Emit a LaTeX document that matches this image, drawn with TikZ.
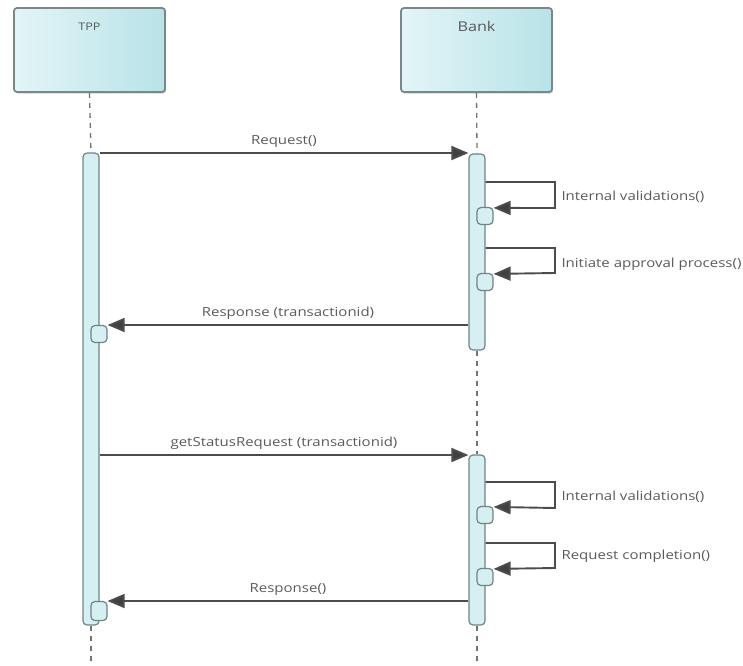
\documentclass[tikz,border=0pt]{standalone}
\usepackage{fontspec}
\setmainfont{Open Sans}
\newfontfamily\widefont[FakeStretch=1.2]{Open Sans}
\usetikzlibrary{arrows.meta,shadows}
\definecolor{boxleft}{HTML}{E3F5F7}
\definecolor{boxright}{HTML}{B8E3E8}
\definecolor{boxedge}{HTML}{7A8888}
\definecolor{barfill}{HTML}{D6EFF1}
\definecolor{baredge}{HTML}{6E8587}
\definecolor{msgcol}{HTML}{4C4C4C}
\definecolor{txtcol}{HTML}{5A5A5A}
\tikzset{
  actor/.style={draw=boxedge, line width=1.8pt, rounded corners=3pt,
    left color=boxleft, right color=boxright,
    minimum width=151pt, minimum height=84pt, inner sep=0pt,
    drop shadow={shadow xshift=1.2pt, shadow yshift=-1.5pt, opacity=0.35}},
  actname/.style={font=\widefont\fontsize{10.5}{12}\selectfont, text=txtcol},
  lifebar/.style={draw=baredge, line width=1.2pt, fill=barfill,
    rounded corners=4pt, minimum width=16pt, inner sep=0pt},
  retbox/.style={draw=baredge, line width=1.2pt, fill=barfill,
    rounded corners=4pt, minimum width=16pt, minimum height=17pt, inner sep=0pt},
  lifeline/.style={draw=black!55, line width=1.3pt, dash pattern=on 5pt off 5pt},
  msg/.style={draw=msgcol, line width=1.9pt,
    -{Triangle[length=17pt,width=14pt,fill=black!75]}},
  msglabel/.style={font=\widefont\fontsize{12.5}{14}\selectfont, text=txtcol},
}
\begin{document}
\begin{tikzpicture}[x=1pt,y=-1pt]
\useasboundingbox (0,0) rectangle (743,665);

% participants
\node[actor] (tpp) at (89.5,50) {};
\node[actname, anchor=north] (tppname) at ([yshift=-12pt]tpp.north) {TPP};
\node[actor] (bank) at (476.5,50) {};
\node[actname, anchor=north, font=\widefont\fontsize{13.5}{15}\selectfont] (bankname) at ([yshift=-11pt]bank.north) {Bank};

% activation bars
\node[lifebar, minimum height=472pt] (tppbar) at (91,389) {};
\node[lifebar, minimum height=196pt] (bankbarA) at (477,252) {};
\node[lifebar, minimum height=170pt] (bankbarB) at (477,540) {};

% lifelines
\coordinate (tppend) at (91,665);
\coordinate (bankend) at (477,665);
\draw[lifeline] (tpp.south) -- (tppbar.north);
\draw[lifeline] (tppbar.south) -- (tppend);
\draw[lifeline] (bank.south) -- (bankbarA.north);
\draw[lifeline] (bankbarA.south) -- (bankbarB.north);
\draw[lifeline] (bankbarB.south) -- (bankend);

% return boxes
\node[retbox] (bretA) at (485,216) {};
\node[retbox] (bretB) at (485,282) {};
\node[retbox] (bretC) at (485,515) {};
\node[retbox] (bretD) at (485,577) {};
\node[retbox] (tretA) at (99,334) {};
\node[retbox, minimum height=19pt] (tretB) at (99,611) {};

% first exchange
\coordinate (yreq) at (0,153);
\draw[msg] (yreq -| tppbar.east) -- (yreq -| bankbarA.west)
  node[msglabel, midway, above=1pt] (lreq) {Request()};

\coordinate (loopA) at (555,182);
\draw[msg] (loopA -| bankbarA.east) -- (loopA) -- ++(0,26) -- ([yshift=-1pt]bretA.north east);
\node[msglabel, anchor=west] (lvalA) at (558,197) {Internal validations()};

\coordinate (loopB) at (555,248);
\draw[msg] (loopB -| bankbarA.east) -- (loopB) -- ++(0,25) -- ([yshift=-1pt]bretB.north east);
\node[msglabel, anchor=west] (lappr) at (558,264) {Initiate approval process()};

\coordinate (yresA) at (0,325);
\draw[msg] (yresA -| bankbarA.west) -- (yresA -| tretA.east)
  node[msglabel, midway, above=1pt] (lresA) {Response (transactionid)};

% second exchange
\coordinate (ystat) at (0,455);
\draw[msg] (ystat -| tppbar.east) -- (ystat -| bankbarB.west)
  node[msglabel, midway, above=1pt] (lstat) {getStatusRequest (transactionid)};

\coordinate (loopC) at (555,482);
\draw[msg] (loopC -| bankbarB.east) -- (loopC) -- ++(0,26) -- ([yshift=-1pt]bretC.north east);
\node[msglabel, anchor=west] (lvalB) at (558,497) {Internal validations()};

\coordinate (loopD) at (555,543);
\draw[msg] (loopD -| bankbarB.east) -- (loopD) -- ++(0,25) -- ([yshift=-1pt]bretD.north east);
\node[msglabel, anchor=west] (lcomp) at (558,556) {Request completion()};

\coordinate (yresB) at (0,601);
\draw[msg] (yresB -| bankbarB.west) -- (yresB -| tretB.east)
  node[msglabel, midway, above=1pt] (lresB) {Response()};
\end{tikzpicture}
\end{document}
